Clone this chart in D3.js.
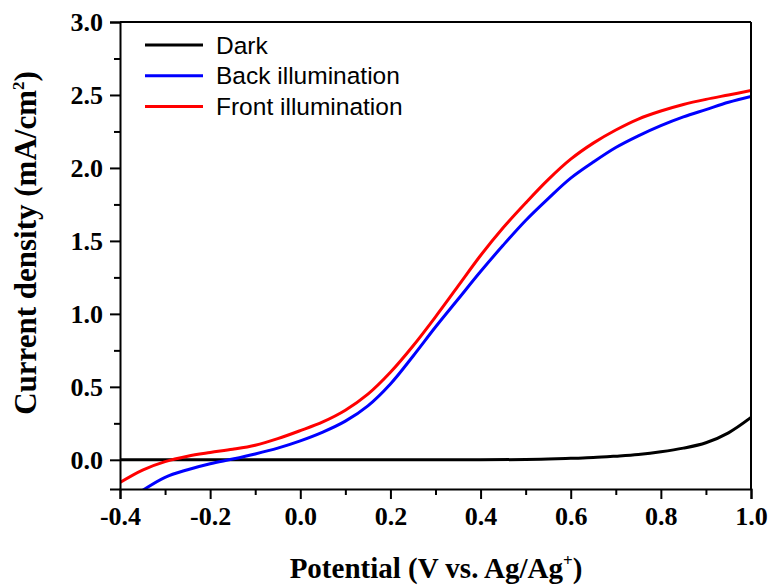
<!DOCTYPE html>
<html>
<head>
<meta charset="utf-8">
<script src="https://cdn.jsdelivr.net/npm/d3@7"></script>
<style>
body { margin: 0; background: #fff; }
</style>
</head>
<body>
<svg id="chart" width="770" height="587"></svg>
<script>
// data: potential (V) and current density (mA/cm2)
var darkV = [-0.40, -0.20, 0.00, 0.20, 0.40, 0.50, 0.55, 0.60, 0.65, 0.70, 0.75, 0.80, 0.85, 0.90, 0.95, 1.00];
var darkJ = [0.000, 0.000, 0.000, 0.000, 0.000, 0.002, 0.005, 0.010, 0.015, 0.025, 0.037, 0.055, 0.080, 0.117, 0.185, 0.290];

var backV = [-0.36, -0.30, -0.25, -0.20, -0.15, -0.10, -0.05, 0.00, 0.05, 0.10, 0.15, 0.20, 0.25, 0.30, 0.35, 0.40, 0.45, 0.50, 0.55, 0.60, 0.65, 0.70, 0.75, 0.80, 0.85, 0.90, 0.95, 1.00];
var backJ = [-0.23, -0.12, -0.068, -0.027, 0.005, 0.04, 0.08, 0.13, 0.19, 0.265, 0.37, 0.52, 0.71, 0.91, 1.10, 1.29, 1.47, 1.64, 1.79, 1.93, 2.04, 2.14, 2.22, 2.29, 2.35, 2.40, 2.45, 2.49];

var frontV = [-0.40, -0.35, -0.30, -0.25, -0.20, -0.15, -0.10, -0.05, 0.00, 0.05, 0.10, 0.15, 0.20, 0.25, 0.30, 0.35, 0.40, 0.45, 0.50, 0.55, 0.60, 0.65, 0.70, 0.75, 0.80, 0.85, 0.90, 0.95, 1.00];
var frontJ = [-0.155, -0.07, -0.012, 0.025, 0.05, 0.072, 0.10, 0.145, 0.20, 0.26, 0.34, 0.45, 0.60, 0.78, 0.98, 1.19, 1.40, 1.59, 1.76, 1.92, 2.06, 2.17, 2.26, 2.335, 2.39, 2.435, 2.47, 2.50, 2.53];

var seriesNames = ["Dark", "Back illumination", "Front illumination"];
var seriesColors = ["#000000", "#0000ff", "#ff0000"];

var xTicks = [-0.4, -0.2, 0.0, 0.2, 0.4, 0.6, 0.8, 1.0];
var yTicks = [0.0, 0.5, 1.0, 1.5, 2.0, 2.5, 3.0];

// layout
var margin = {top: 22, right: 19, bottom: 98, left: 120};
var width = 770 - margin.left - margin.right;
var height = 587 - margin.top - margin.bottom;

var svg = d3.select("#chart");
var g = svg.append("g")
    .attr("transform", "translate(" + margin.left + "," + margin.top + ")");

var x = d3.scaleLinear().domain([-0.4, 1.0]).range([0, width]);
var y = d3.scaleLinear().domain([-0.2, 3.0]).range([height, 0]);

// clip the curves to the plot area
g.append("clipPath").attr("id", "clip")
    .append("rect").attr("width", width).attr("height", height);

var line = d3.line()
    .x(function(d) { return x(d[0]); })
    .y(function(d) { return y(d[1]); })
    .curve(d3.curveCatmullRom.alpha(0.5));

var allSeries = [d3.zip(darkV, darkJ), d3.zip(backV, backJ), d3.zip(frontV, frontJ)];

allSeries.forEach(function(s, i) {
    g.append("path")
        .datum(s)
        .attr("clip-path", "url(#clip)")
        .attr("fill", "none")
        .attr("stroke", seriesColors[i])
        .attr("stroke-width", 3)
        .attr("d", line);
});

// minor ticks halfway between the labelled ones
var xMinor = d3.range(-0.3, 1.0, 0.2);
var yMinor = d3.range(-0.25, 3.0, 0.5).filter(function(v) { return v > -0.2; });

var tickFont = "'Liberation Serif', 'Times New Roman', serif";

// x axis
var xAxis = g.append("g")
    .attr("transform", "translate(0," + height + ")")
    .call(d3.axisBottom(x).tickValues(xTicks).tickSize(10).tickPadding(8)
        .tickFormat(d3.format(".1f")));
g.append("g")
    .attr("transform", "translate(0," + height + ")")
    .call(d3.axisBottom(x).tickValues(xMinor).tickSize(6).tickFormat(""))
    .select(".domain").remove();

// y axis
var yAxis = g.append("g")
    .call(d3.axisLeft(y).tickValues(yTicks).tickSize(10).tickPadding(7)
        .tickFormat(d3.format(".1f")));
g.append("g")
    .call(d3.axisLeft(y).tickValues(yMinor).tickSize(6).tickFormat(""))
    .select(".domain").remove();

g.selectAll(".tick line").attr("stroke", "#000").attr("stroke-width", 2);
g.selectAll(".domain").attr("stroke-width", 2);
g.selectAll(".tick text")
    .style("font-family", tickFont)
    .style("font-weight", "bold")
    .style("font-size", "26px")
    .attr("fill", "#000");
// d3 formats negatives with a minus sign; the picture uses a hyphen
xAxis.selectAll(".tick text").text(function(d) { return d.toFixed(1); });

// top and right frame
g.append("line").attr("x1", 0).attr("x2", width).attr("y1", 0).attr("y2", 0)
    .attr("stroke", "#000").attr("stroke-width", 2);
g.append("line").attr("x1", width).attr("x2", width).attr("y1", 0).attr("y2", height)
    .attr("stroke", "#000").attr("stroke-width", 2);

// axis titles
var xTitle = svg.append("text")
    .attr("x", 436)
    .attr("y", 578)
    .attr("text-anchor", "middle")
    .style("font-family", tickFont)
    .style("font-weight", "bold")
    .style("font-size", "29px");
xTitle.append("tspan").text("Potential (V vs. Ag/Ag");
xTitle.append("tspan").text("+").attr("dy", -12).style("font-size", "17px");
xTitle.append("tspan").text(")").attr("dy", 12);

var yTitle = svg.append("text")
    .attr("transform", "translate(36,243) rotate(-90)")
    .attr("text-anchor", "middle")
    .style("font-family", tickFont)
    .style("font-weight", "bold")
    .style("font-size", "31px");
yTitle.append("tspan").text("Current density (mA/cm");
yTitle.append("tspan").text("2").attr("dy", -12).style("font-size", "17px");
yTitle.append("tspan").text(")").attr("dy", 12);

// legend
var legend = g.selectAll(".legend")
    .data(seriesNames)
    .enter().append("g")
    .attr("class", "legend")
    .attr("transform", function(d, i) { return "translate(25," + (23 + i * 30.8) + ")"; });

legend.append("line")
    .attr("x1", 0).attr("x2", 58)
    .attr("stroke", function(d, i) { return seriesColors[i]; })
    .attr("stroke-width", 3);

legend.append("text")
    .attr("x", 71)
    .attr("y", 8.5)
    .style("font-family", "'Liberation Sans', Arial, sans-serif")
    .style("font-size", "24.5px")
    .text(function(d) { return d; });
</script>
</body>
</html>
